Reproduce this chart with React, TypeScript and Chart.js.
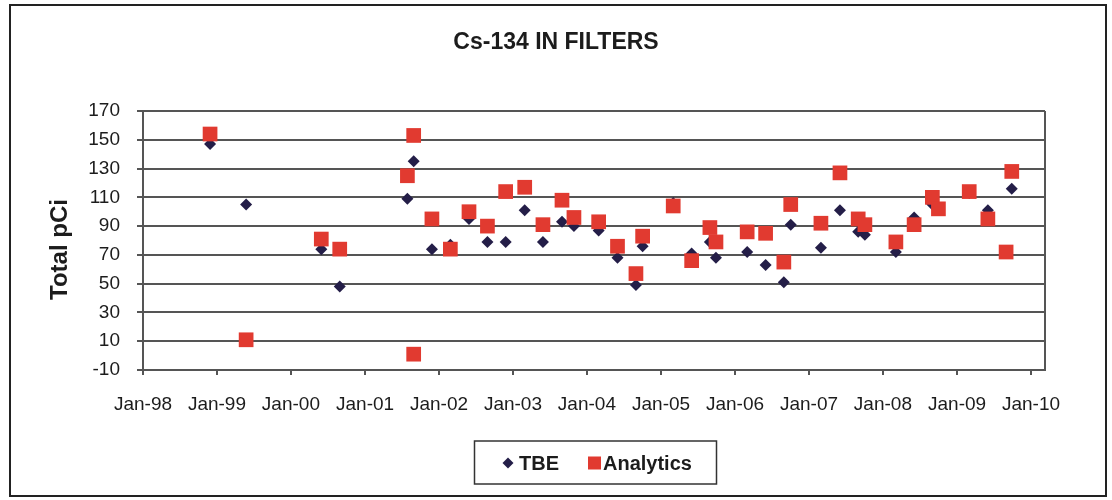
import React, { useEffect, useRef } from 'react';
import { Chart, registerables } from 'chart.js';

Chart.register(...registerables);

const FONT = "Arial, 'Liberation Sans', sans-serif";
const TEXT_COLOR = '#1c1c1c';
const GRID_COLOR = '#555555';

const chartTitle = 'Cs-134 IN FILTERS';
const yAxisTitle = 'Total pCi';

const xTickDates = [
  '1998-01-01', '1999-01-01', '2000-01-01', '2001-01-01', '2002-01-01', '2003-01-01', '2004-01-01',
  '2005-01-01', '2006-01-01', '2007-01-01', '2008-01-01', '2009-01-01', '2010-01-01',
];
const xTickLabels = [
  'Jan-98', 'Jan-99', 'Jan-00', 'Jan-01', 'Jan-02', 'Jan-03', 'Jan-04',
  'Jan-05', 'Jan-06', 'Jan-07', 'Jan-08', 'Jan-09', 'Jan-10',
];
const xAxisMaxDate = '2010-03-11';
const yTickValues = [-10, 10, 30, 50, 70, 90, 110, 130, 150, 170];

const seriesLabels = ['TBE', 'Analytics'];

const tbeDates = [
  '1998-11-28', '1999-05-25', '2000-05-30', '2000-08-29', '2001-07-29', '2001-08-29', '2001-11-27',
  '2002-02-26', '2002-05-29', '2002-08-28', '2002-11-26', '2003-02-28', '2003-05-29', '2003-08-31',
  '2003-10-29', '2004-02-28', '2004-05-31', '2004-08-30', '2004-10-02', '2005-03-02', '2005-06-01',
  '2005-08-30', '2005-09-29', '2006-03-02', '2006-06-01', '2006-08-30', '2006-10-03', '2007-03-01',
  '2007-06-03', '2007-09-01', '2007-10-04', '2008-03-05', '2008-06-03', '2008-09-01', '2009-03-02',
  '2009-06-02', '2009-09-28',
];
const tbeValues = [
  147, 105, 74, 48, 109, 135, 74,
  77, 95, 79, 79, 101, 79, 93,
  90, 87, 68, 49, 76, 106, 71,
  79, 68, 72, 63, 51, 91, 75,
  101, 86, 84, 72, 96, 105, 113,
  101, 116,
];

const analyticsDates = [
  '1998-11-28', '1999-05-25', '2000-05-30', '2000-08-29', '2001-07-29', '2001-08-29', '2001-08-29',
  '2001-11-27', '2002-02-26', '2002-05-29', '2002-08-28', '2002-11-26', '2003-02-28', '2003-05-29',
  '2003-08-31', '2003-10-29', '2004-02-28', '2004-05-31', '2004-08-30', '2004-10-02', '2005-03-02',
  '2005-06-01', '2005-08-30', '2005-09-29', '2006-03-02', '2006-06-01', '2006-08-30', '2006-10-03',
  '2007-03-01', '2007-06-03', '2007-09-01', '2007-10-04', '2008-03-05', '2008-06-03', '2008-09-01',
  '2008-10-01', '2009-03-02', '2009-06-02', '2009-08-31', '2009-09-28',
];
const analyticsValues = [
  154, 11, 81, 74, 125, 153, 1,
  95, 74, 100, 90, 114, 117, 91,
  108, 96, 93, 76, 57, 83, 104,
  66, 89, 79, 86, 85, 65, 105,
  92, 127, 95, 91, 79, 91, 110,
  102, 114, 95, 72, 128,
];

const TBE_COLOR = '#241e48';
const ANALYTICS_COLOR = '#e13a30';

const toTime = (s: string) => {
  const [y, m, d] = s.split('-').map(Number);
  return Date.UTC(y, m - 1, d);
};

const framePlugin = {
  id: 'frame',
  beforeDraw(chart: any) {
    const { ctx } = chart;
    ctx.save();
    ctx.fillStyle = '#ffffff';
    ctx.fillRect(0, 0, chart.width, chart.height);
    ctx.strokeStyle = '#222222';
    ctx.lineWidth = 2;
    ctx.strokeRect(10, 5, 1096, 491);
    ctx.restore();
  },
  beforeDatasetsDraw(chart: any) {
    const { ctx, chartArea } = chart;
    ctx.save();
    ctx.strokeStyle = GRID_COLOR;
    ctx.lineWidth = 2;
    ctx.beginPath();
    ctx.moveTo(Math.round(chartArea.right), chartArea.top);
    ctx.lineTo(Math.round(chartArea.right), chartArea.bottom);
    ctx.stroke();
    ctx.restore();
  },
  afterDraw(chart: any) {
    const { ctx } = chart;
    ctx.save();
    ctx.fillStyle = TEXT_COLOR;
    ctx.textAlign = 'center';
    ctx.textBaseline = 'middle';
    ctx.font = `bold 23px ${FONT}`;
    ctx.fillText(chartTitle, chart.width / 2, 43);
    ctx.font = `bold 24px ${FONT}`;
    ctx.translate(60, 249.5);
    ctx.rotate(-Math.PI / 2);
    ctx.fillText(yAxisTitle, 0, 0);
    ctx.restore();
  },
};

const boxLegendPlugin = {
  id: 'boxLegend',
  afterDraw(chart: any) {
    const { ctx } = chart;
    const ds = chart.data.datasets;
    ctx.save();
    ctx.strokeStyle = '#333333';
    ctx.lineWidth = 1.5;
    ctx.strokeRect(474.5, 441, 242, 43);
    ctx.font = `bold 20px ${FONT}`;
    ctx.textBaseline = 'middle';
    ctx.textAlign = 'left';
    const cy = 463;
    ctx.fillStyle = ds[0].pointBackgroundColor;
    ctx.beginPath();
    ctx.moveTo(508 - 5.5, cy);
    ctx.lineTo(508, cy - 5.5);
    ctx.lineTo(508 + 5.5, cy);
    ctx.lineTo(508, cy + 5.5);
    ctx.closePath();
    ctx.fill();
    ctx.fillStyle = TEXT_COLOR;
    ctx.fillText(ds[0].label, 519, cy + 1);
    ctx.fillStyle = ds[1].pointBackgroundColor;
    ctx.fillRect(588, cy - 6.5, 13, 13);
    ctx.fillStyle = TEXT_COLOR;
    ctx.fillText(ds[1].label, 603, cy + 1);
    ctx.restore();
  },
};

export default function App() {
  const canvasRef = useRef<HTMLCanvasElement | null>(null);

  useEffect(() => {
    if (!canvasRef.current) return;
    const chart = new Chart(canvasRef.current, {
      type: 'scatter',
      data: {
        datasets: [
          {
            label: seriesLabels[0],
            data: tbeDates.map((d, i) => ({ x: toTime(d), y: tbeValues[i] })),
            pointStyle: 'rectRot',
            pointRadius: 6,
            pointBorderWidth: 0,
            pointBackgroundColor: TBE_COLOR,
            pointBorderColor: TBE_COLOR,
            showLine: false,
            order: 1,
          },
          {
            label: seriesLabels[1],
            data: analyticsDates.map((d, i) => ({ x: toTime(d), y: analyticsValues[i] })),
            pointStyle: 'rect',
            pointRadius: 10.4,
            pointBorderWidth: 0,
            pointBackgroundColor: ANALYTICS_COLOR,
            pointBorderColor: ANALYTICS_COLOR,
            showLine: false,
            order: 0,
          },
        ],
      },
      options: {
        animation: false,
        responsive: false,
        events: [],
        layout: { padding: { left: 0, right: 67, top: 111, bottom: 90 } },
        plugins: {
          legend: { display: false },
          tooltip: { enabled: false },
          title: { display: false },
        },
        scales: {
          x: {
            type: 'linear',
            min: toTime(xTickDates[0]),
            max: toTime(xAxisMaxDate),
            afterBuildTicks: (scale: any) => {
              scale.ticks = xTickDates.map((d) => ({ value: toTime(d) }));
            },
            afterFit: (scale: any) => {
              scale.height = 40;
            },
            ticks: {
              autoSkip: false,
              maxRotation: 0,
              minRotation: 0,
              padding: 18,
              color: TEXT_COLOR,
              font: { family: FONT, size: 19 },
              callback: (_v: any, i: number) => xTickLabels[i],
            },
            grid: { drawOnChartArea: false, drawTicks: true, tickLength: 5, color: GRID_COLOR, lineWidth: 2 },
            border: { display: true, color: GRID_COLOR, width: 2 },
          },
          y: {
            type: 'linear',
            min: -10,
            max: 170,
            afterBuildTicks: (scale: any) => {
              scale.ticks = yTickValues.map((v) => ({ value: v }));
            },
            afterFit: (scale: any) => {
              scale.width = 143;
            },
            ticks: {
              padding: 17,
              color: TEXT_COLOR,
              font: { family: FONT, size: 19 },
              callback: (v: any) => String(v),
            },
            grid: { color: GRID_COLOR, lineWidth: 2, drawTicks: true, tickLength: 6 },
            border: { display: true, color: GRID_COLOR, width: 2 },
          },
        },
      },
      plugins: [framePlugin, boxLegendPlugin],
    } as any);
    return () => chart.destroy();
  }, []);

  return (
    <div style={{ position: 'absolute', left: 0, top: 0, width: 1112, height: 500 }}>
      <canvas ref={canvasRef} width={1112} height={500} style={{ width: 1112, height: 500, display: 'block' }} />
    </div>
  );
}
